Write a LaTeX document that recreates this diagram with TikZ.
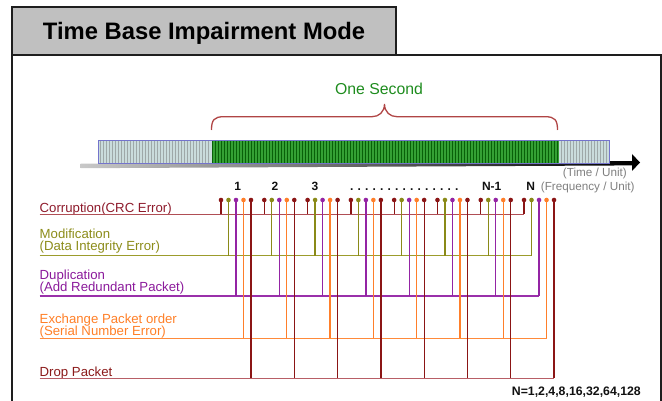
\documentclass[tikz,border=0pt]{standalone}
\usepackage{fontspec}
\setmainfont{Liberation Sans}
\definecolor{framec}{HTML}{1E1E1E}
\definecolor{titlefill}{HTML}{C0C0C0}
\definecolor{greentxt}{HTML}{1E8C1E}
\definecolor{bracec}{HTML}{B04545}
\definecolor{unitgray}{HTML}{7F7F7F}
\definecolor{numc}{HTML}{111111}
\definecolor{barGray}{HTML}{CADCDC}
\definecolor{stripeGray}{HTML}{9EA8A8}
\definecolor{barGreen}{HTML}{34A034}
\definecolor{stripeGreen}{HTML}{086008}
\definecolor{barEdge}{HTML}{7474CC}
\definecolor{axisL}{HTML}{C8C8C8}
% pin colours
\definecolor{pc0}{HTML}{8B1515}
\definecolor{pc1}{HTML}{8A8A18}
\definecolor{pc2}{HTML}{9424A4}
\definecolor{pc3}{HTML}{FF7F2A}
\definecolor{pc4}{HTML}{8B1515}
% horizontal line colours
\definecolor{hc0}{HTML}{B04E55}
\definecolor{hc1}{HTML}{9C9C2C}
\definecolor{hc2}{HTML}{9A30AA}
\definecolor{hc3}{HTML}{FF8A3A}
\definecolor{hc4}{HTML}{B85E66}
% label colours
\definecolor{tc0}{HTML}{8E1B2C}
\definecolor{tc1}{HTML}{8C8C1A}
\definecolor{tc2}{HTML}{8B1A9B}
\definecolor{tc3}{HTML}{FF7F27}
\definecolor{tc4}{HTML}{8B1A1A}
\newcommand\dotgap{\hspace{4.16pt}}
\newcommand\twolines[2]{\vtop{\baselineskip=12pt\lineskiplimit=-100pt\hbox{#1}\hbox{#2}}}
\begin{document}
\begin{tikzpicture}[x=1pt,y=-1pt,
  lbl/.style={inner sep=0pt, anchor=base west, font=\fontsize{13.2}{12}\selectfont},
  num/.style={inner sep=0pt, anchor=base, font=\fontsize{12}{14}\selectfont\bfseries, text=numc},
  unitlbl/.style={inner sep=0pt, font=\fontsize{11.7}{14}\selectfont, text=unitgray},
  pindot/.style={circle, inner sep=0pt, minimum size=4.6pt},
  hline/.style={line width=1.4pt},
  pinline/.style={line width=1.3pt},
  stripeG/.style={stripeGray, line width=0.9pt},
  stripeN/.style={stripeGreen, line width=1.1pt},
  framedraw/.style={draw=framec, line width=2pt}]
\useasboundingbox (0,0) rectangle (662,401);

% frame and title
\draw[framedraw] (11.5,401) -- (11.5,55) -- (660.5,55) -- (660.5,401);
\draw[framedraw, fill=titlefill] (11.5,7) rectangle (396,55);
\node[inner sep=0pt, anchor=base west, font=\fontsize{23.8}{28}\selectfont\bfseries, text=black] (title) at (42.7,40) {Time Base Impairment Mode};

% one second brace
\node[inner sep=0pt, anchor=base, font=\fontsize{15.8}{18}\selectfont, text=greentxt] (onesec) at (379,94.3) {One Second};
\draw[bracec, line width=1.3pt] (211.5,130) .. controls (211.5,120) and (214,116.7) .. (224,116.7) -- (372,116.7)
  .. controls (379,116.7) and (384.5,112) .. (384.5,104)
  .. controls (384.5,112) and (390,116.7) .. (397,116.7) -- (545,116.7)
  .. controls (555,116.7) and (557.5,120) .. (557.5,130);

% axis
\shade[left color=axisL, right color=black] (80.5,163.6) -- (634,161) -- (634,165.4) -- (80.5,168.2) -- cycle;
\fill[black] (632,154) -- (640,162.5) -- (632,171) -- cycle;

% bar
\fill[barGray] (98.5,140.7) rectangle (211.5,163);
\foreach \x in {100.5,103.5,...,210} \draw[stripeG] (\x,141.2) -- (\x,162.6);
\fill[barGreen] (211.5,140.7) rectangle (559.3,163);
\foreach \x in {212.7,215.7,...,558.5} \draw[stripeN] (\x,141.2) -- (\x,162.6);
\fill[barGray] (559.3,140.7) rectangle (609.5,163);
\foreach \x in {561,564,...,608.5} \draw[stripeG] (\x,141.2) -- (\x,162.6);
\draw[barEdge, line width=0.8pt] (98.5,140.7) rectangle (609.5,163);

% units
\node[unitlbl, anchor=base east] (tunit) at (627,177) {(Time / Unit)};
\node[unitlbl, anchor=base west] (funit) at (540.7,190.6) {(Frequency / Unit)};

% group numbers
\node[num] (n1) at (237.7,190.6) {1};
\node[num] (n2) at (275,190.6) {2};
\node[num] (n3) at (315,190.6) {3};
\node[num, anchor=base west] (ndots) at (350,190.6) {.\dotgap.\dotgap.\dotgap.\dotgap.\dotgap.\dotgap.\dotgap.\dotgap.\dotgap.\dotgap.\dotgap.\dotgap.\dotgap.\dotgap.};
\node[num] (nN1) at (491.7,190.6) {N-1};
\node[num] (nN) at (530.7,190.6) {N};

% left labels
\node[lbl, text=tc0] (lab0) at (39.5,212.7) {Corruption(CRC Error)};
\node[lbl, text=tc1] (lab1) at (39.5,239) {\twolines{Modification}{(Data Integrity Error)}};
\node[lbl, text=tc2] (lab2) at (39.5,279.3) {\twolines{Duplication}{(Add Redundant Packet)}};
\node[lbl, text=tc3] (lab3) at (39.5,323.3) {\twolines{Exchange Packet order}{(Serial Number Error)}};
\node[lbl, text=tc4] (lab4) at (39.5,376.7) {Drop Packet};

% level coordinates
\coordinate (L0) at (39.5,214.5);
\coordinate (L1) at (39.5,255.7);
\coordinate (L2) at (39.5,296);
\coordinate (L3) at (39.5,338.3);
\coordinate (L4) at (39.5,378.3);

% pin heads
\foreach \k in {0,...,7}{
  \foreach \j in {0,...,4}{
    \node[pindot, fill=pc\j] (p\k\j) at ({221+43.29*\k+7.5*\j},200) {};
  }
}

% horizontal lines
\foreach \j in {0,...,4}{
  \draw[hline, hc\j] (L\j) -- (L\j -| p7\j);
}

% pins
\foreach \k in {0,...,7}{
  \foreach \j in {0,...,4}{
    \draw[pinline, pc\j] (p\k\j) -- (p\k\j |- L\j);
  }
}

\node[inner sep=0pt, anchor=base west, font=\fontsize{12.3}{14}\selectfont\bfseries, text=numc] (nlist) at (511.7,395.7) {N=1,2,4,8,16,32,64,128};
\end{tikzpicture}
\end{document}
